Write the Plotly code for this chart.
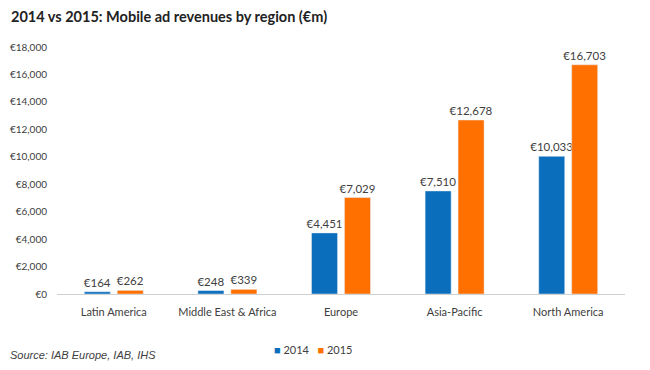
import plotly.graph_objects as go

regions = ["Latin America", "Middle East & Africa", "Europe", "Asia-Pacific", "North America"]
rev_2014 = [164, 248, 4451, 7510, 10033]
rev_2015 = [262, 339, 7029, 12678, 16703]
y_ticks = [0, 2000, 4000, 6000, 8000, 10000, 12000, 14000, 16000, 18000]

blue = "#0A6EBD"
orange = "#FF7000"
font_fam = "Lato, 'Open Sans', sans-serif"

def lab(v):
    return "€{:,}".format(v)

fig = go.Figure()
for name, vals, col in [("2014", rev_2014, blue), ("2015", rev_2015, orange)]:
    fig.add_trace(go.Bar(name=name, x=regions, y=vals, marker_color=col,
                         text=[lab(v) for v in vals], textposition="outside",
                         constraintext="none",
                         textfont=dict(size=11.5, color="#404040", family=font_fam),
                         cliponaxis=False, showlegend=False))

# page body has an 8px margin; size the figure so it fits the 650x370 window
fig.update_layout(
    width=642, height=362,
    margin=dict(l=49, r=25, t=39, b=76, autoexpand=False),
    paper_bgcolor="white", plot_bgcolor="white",
    barmode="group", bargap=0.42, bargroupgap=0.21,
    font=dict(family=font_fam, color="#404040"),
    title=dict(text="<b>2014 vs 2015: Mobile ad revenues by region (€m)</b>",
               x=0.0, xanchor="left", y=1.0, yanchor="top", pad=dict(t=4, l=3),
               font=dict(size=14.5, color="#222222", family=font_fam)),
    showlegend=False,
)
fig.update_xaxes(showgrid=False, showline=True, linecolor="#D0D0D0", linewidth=1,
                 ticks="", tickfont=dict(size=11, color="#404040"), automargin=False,
                 ticklabelstandoff=8)
fig.update_yaxes(range=[0, 18000], tickvals=y_ticks,
                 ticktext=[lab(v) for v in y_ticks], showgrid=False,
                 zeroline=False, showline=False, automargin=False,
                 tickfont=dict(size=10, color="#404040"), ticklabelstandoff=9)
fig.add_annotation(text="<i>Source: IAB Europe, IAB, IHS</i>", xref="paper", yref="paper",
                   x=-0.086, y=-0.247, xanchor="left", yanchor="middle", showarrow=False,
                   font=dict(size=11, color="#404040", family="Liberation Sans, Arial"))
legend_text = (f"<span style='color:{blue}'>■</span> 2014   "
               f"<span style='color:{orange}'>■</span> 2015")
fig.add_annotation(text=legend_text, xref="paper", yref="paper",
                   x=0.45, y=-0.223, xanchor="center", yanchor="middle", showarrow=False,
                   font=dict(size=11, color="#404040", family=font_fam))

fig.write_html("out.html")
